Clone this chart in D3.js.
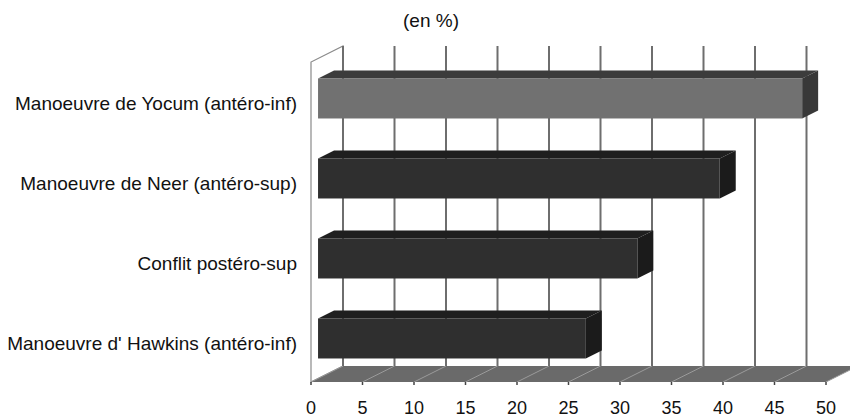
<!DOCTYPE html>
<html><head><meta charset="utf-8">
<script src="https://cdn.jsdelivr.net/npm/d3@7"></script>
<style>body{margin:0;background:#fff}svg{display:block;font-family:"Liberation Sans",Arial,sans-serif}</style>
</head><body><svg id="c" width="850" height="420"></svg>
<script>
const categories = ["Manoeuvre de Yocum (antéro-inf)","Manoeuvre de Neer (antéro-sup)","Conflit postéro-sup","Manoeuvre d' Hawkins (antéro-inf)"];
const values = [47, 39, 31, 26];
const tickValues = [0,5,10,15,20,25,30,35,40,45,50];
const title = "(en %)";

const svg = d3.select("#c");
const x = d3.scaleLinear().domain([0,50]).range([311,826]);
const y = d3.scaleBand().domain(categories).range([62,382]).paddingInner(0.5).paddingOuter(0.25);
const D = [32,-16];
const off = t => [D[0]*t, D[1]*t];
const yTop = 62, yBot = 382;

// side wall
const [bx,by] = off(1);
svg.append("polygon")
  .attr("points",[[x(0),yBot],[x(0),yTop],[x(0)+bx,yTop+by],[x(0)+bx,yBot+by]].map(p=>p.join(",")).join(" "))
  .attr("fill","#fff").attr("stroke","#8a8a8a").attr("stroke-width",1.2);

// floor
svg.append("polygon")
  .attr("points",[[x(0),yBot],[x(0)+bx,yBot+by],[x(50)+bx,yBot+by],[x(50),yBot]].map(p=>p.join(",")).join(" "))
  .attr("fill","#6a6a6a");
svg.selectAll(".fl").data(tickValues).join("line")
  .attr("x1",d=>x(d)).attr("y1",yBot).attr("x2",d=>x(d)+bx).attr("y2",yBot+by)
  .attr("stroke","#9a9a9a").attr("stroke-width",1);
svg.selectAll(".tk").data(tickValues).join("line")
  .attr("x1",d=>x(d)).attr("y1",yBot).attr("x2",d=>x(d)).attr("y2",yBot+3)
  .attr("stroke","#444").attr("stroke-width",1.5);

// back gridlines
svg.selectAll(".gl").data(tickValues).join("line")
  .attr("x1",d=>x(d)+bx).attr("y1",yTop+by).attr("x2",d=>x(d)+bx).attr("y2",yBot+by)
  .attr("stroke","#6e6e6e").attr("stroke-width",2);

// bars
const t0 = 0.22, t1 = 0.72;
const [dx0,dy0] = off(t0), [dx1,dy1] = off(t1);
const pal = [{f:"#717171",t:"#3c3c3c",s:"#383838"},{f:"#2f2f2f",t:"#1f1f1f",s:"#1b1b1b"}];
const g = svg.selectAll(".bar").data(categories.map((c,i)=>({c,v:values[i],i}))).join("g");
g.each(function(d){
  const sel = d3.select(this);
  const c = d.i===0?pal[0]:pal[1];
  const x0=x(0), x1=x(d.v), yt=y(d.c), yb=yt+y.bandwidth();
  const P = a=>a.map(p=>p.join(",")).join(" ");
  sel.append("polygon").attr("points",P([[x0+dx0,yt+dy0],[x0+dx1,yt+dy1],[x1+dx1,yt+dy1],[x1+dx0,yt+dy0]])).attr("fill",c.t);
  sel.append("polygon").attr("points",P([[x1+dx0,yt+dy0],[x1+dx1,yt+dy1],[x1+dx1,yb+dy1],[x1+dx0,yb+dy0]])).attr("fill",c.s);
  sel.append("rect").attr("x",x0+dx0).attr("y",yt+dy0).attr("width",x1-x0).attr("height",yb-yt).attr("fill",c.f);
});

// category labels
svg.selectAll(".cl").data(categories).join("text")
  .attr("x",297).attr("y",d=>y(d)+y.bandwidth()/2+1).attr("dy","0.35em")
  .attr("text-anchor","end").attr("font-size",19).attr("fill","#111").text(d=>d);

// tick labels
svg.selectAll(".tl").data(tickValues).join("text")
  .attr("x",d=>x(d)).attr("y",408).attr("dy","0.35em")
  .attr("text-anchor","middle").attr("font-size",18).attr("fill","#111").text(d=>d);

svg.append("text").attr("x",431).attr("y",20).attr("dy","0.35em")
  .attr("text-anchor","middle").attr("font-size",19).attr("fill","#111").text(title);
</script></body></html>
